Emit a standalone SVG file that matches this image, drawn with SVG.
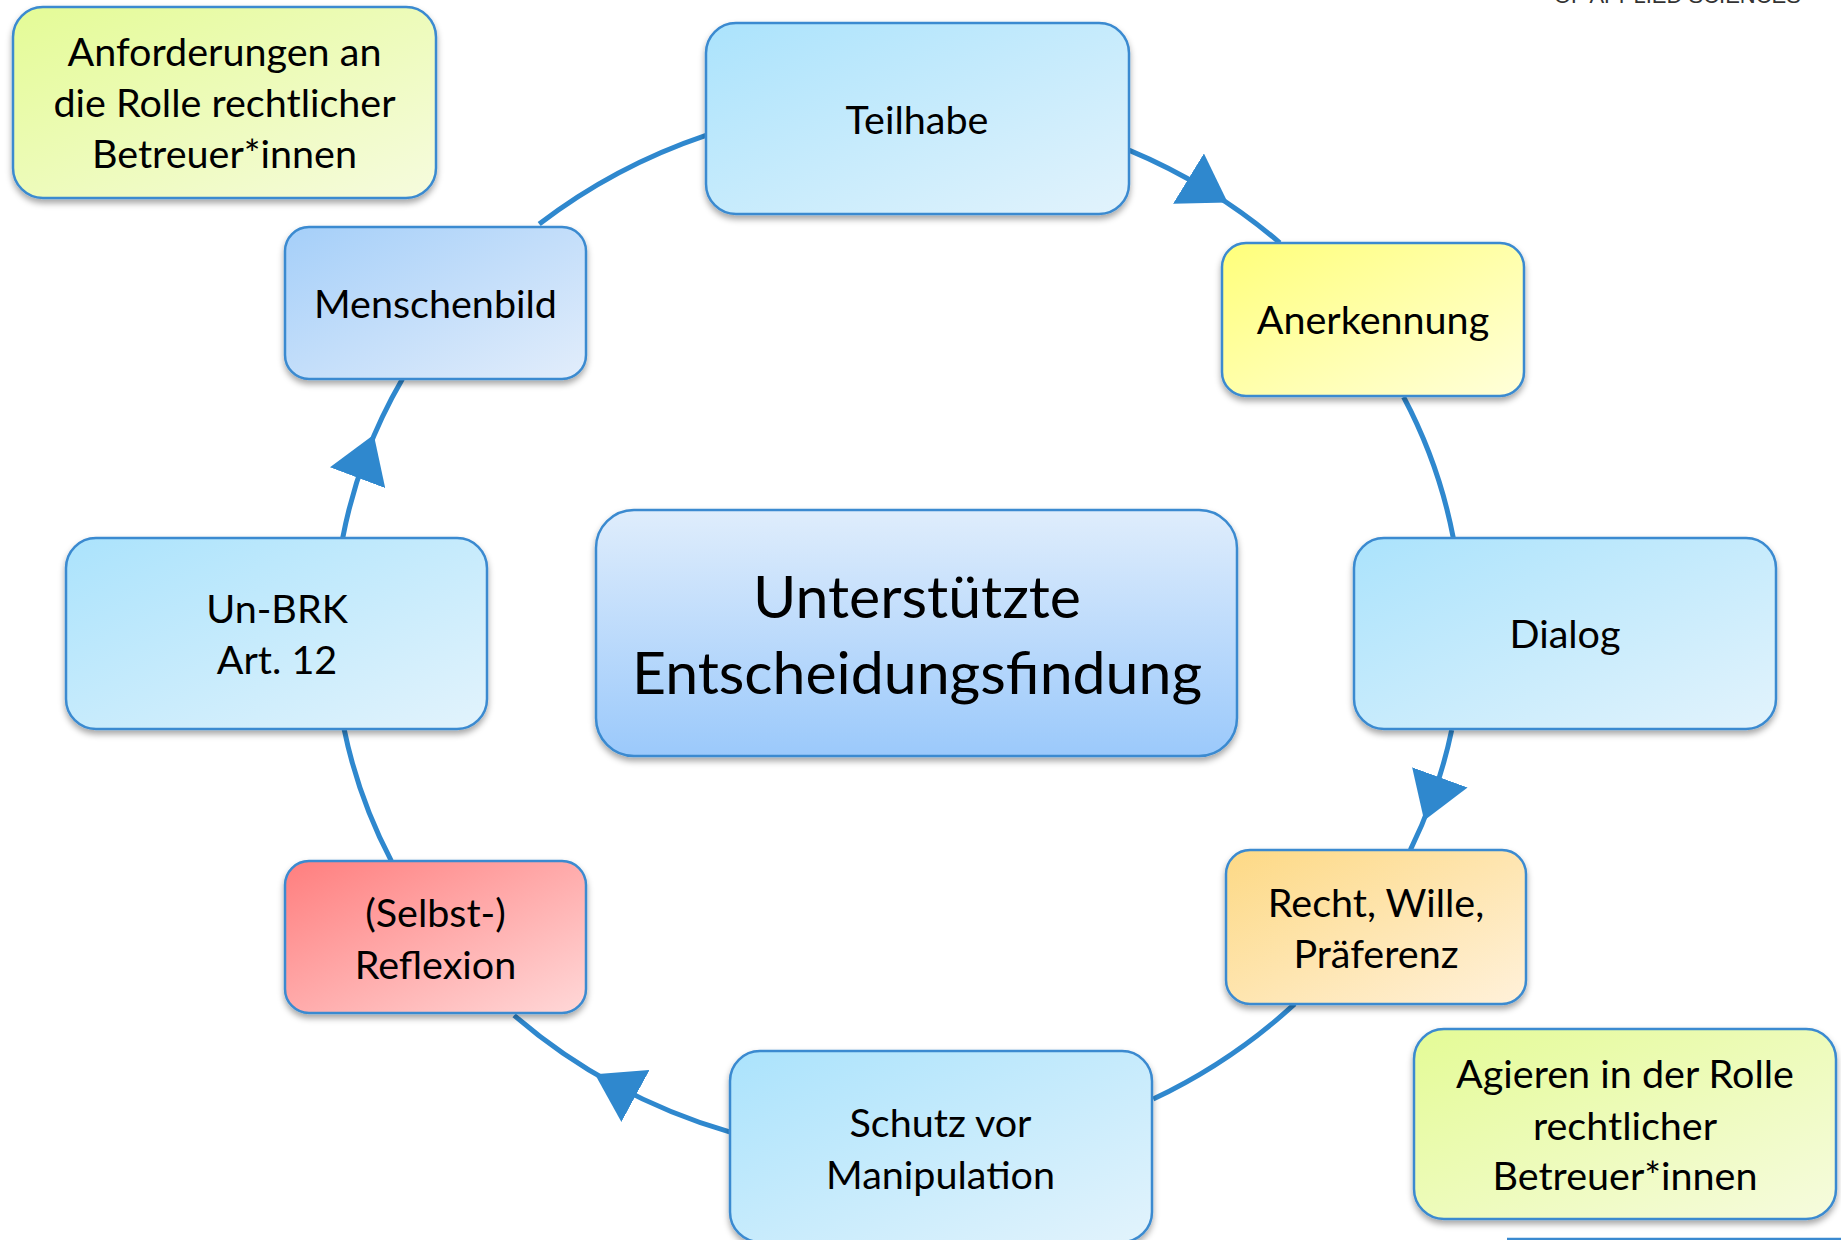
<svg xmlns="http://www.w3.org/2000/svg" width="1841" height="1240" viewBox="0 0 1841 1240">
<style>
.box{stroke:#3A8AD0;stroke-width:2.5;filter:url(#sh)}
.t{font-family:Lato,"Open Sans","Liberation Sans",sans-serif;font-size:39.5px;fill:#000;text-anchor:middle}
.big{font-size:59px}
.conn{fill:none;stroke:#2F88CE;stroke-width:5}
.arr{marker-mid:url(#ah)}
</style>
<defs>
<filter id="sh" x="-10%" y="-10%" width="120%" height="130%">
<feDropShadow dx="0" dy="4" stdDeviation="3" flood-color="#000" flood-opacity="0.35"/>
</filter>
<linearGradient id="gBlue" x1="0" y1="0" x2="1" y2="1"><stop offset="0" stop-color="#ABE3FC"/><stop offset="1" stop-color="#E2F3FC"/></linearGradient>
<linearGradient id="gMensch" x1="0" y1="0" x2="1" y2="1"><stop offset="0" stop-color="#A5CFF9"/><stop offset="1" stop-color="#E2EDFB"/></linearGradient>
<linearGradient id="gYellow" x1="0" y1="0" x2="1" y2="1"><stop offset="0" stop-color="#FFFF7A"/><stop offset="1" stop-color="#FFFFDA"/></linearGradient>
<linearGradient id="gOrange" x1="0" y1="0" x2="1" y2="1"><stop offset="0" stop-color="#FDD985"/><stop offset="1" stop-color="#FFF1DA"/></linearGradient>
<linearGradient id="gRed" x1="0" y1="0" x2="1" y2="1"><stop offset="0" stop-color="#FF7E7E"/><stop offset="1" stop-color="#FFD8D8"/></linearGradient>
<linearGradient id="gGreen" x1="0" y1="0" x2="1" y2="1"><stop offset="0" stop-color="#E4FB96"/><stop offset="1" stop-color="#F6FBDE"/></linearGradient>
<linearGradient id="gCenter" x1="0" y1="0" x2="0" y2="1"><stop offset="0" stop-color="#DFEDFC"/><stop offset="1" stop-color="#9BC9FB"/></linearGradient>
<marker id="ah" markerUnits="userSpaceOnUse" viewBox="0 0 46 59" markerWidth="46" markerHeight="59" refX="23" refY="29.5" orient="auto">
<path d="M0,0 L46,29.5 L0,59 Z" fill="#2F88CE"/>
</marker>
</defs>
<rect width="1841" height="1240" fill="#fff"/>
<text x="1554" y="3" style="font-family:'Liberation Sans',Arial,sans-serif;font-size:22px;fill:#333">OF APPLIED SCIENCES</text>
<line x1="1507" y1="1239" x2="1841" y2="1239" stroke="#3A8AD0" stroke-width="2.5"/>

<g id="connectors">
<path class="conn arr" d="M1128.3,149.9 A564 526 0 0 1 1208.1,190.6 A564 526 0 0 1 1279.8,242.8"/>
<path class="conn" d="M1403.6,397 A564 526 0 0 1 1453.3,538"/>
<path class="conn arr" d="M1451.7,729.9 A564 526 0 0 1 1432,799 A564 526 0 0 1 1410.4,849.8"/>
<path class="conn" d="M1294.7,1003.9 A564 526 0 0 1 1153.2,1099.1"/>
<path class="conn arr" d="M730.3,1132.2 A564 526 0 0 1 615.2,1085.1 A564 526 0 0 1 514.1,1015.3"/>
<path class="conn" d="M391.3,860.9 A564 526 0 0 1 344.1,729"/>
<path class="conn arr" d="M342.7,538 A564 526 0 0 1 365.7,456.2 A564 526 0 0 1 402.4,379"/>
<path class="conn" d="M539.2,224.1 A564 526 0 0 1 706,135.4"/>
</g>

<g id="anforderungen">
<rect class="box" x="13" y="7" width="423" height="191" rx="30" fill="url(#gGreen)"/>
<text class="t" x="224.5" y="66">Anforderungen an</text>
<text class="t" x="224.5" y="117">die Rolle rechtlicher</text>
<text class="t" x="224.5" y="168">Betreuer*innen</text>
</g>
<g id="teilhabe">
<rect class="box" x="706" y="23" width="423" height="191" rx="30" fill="url(#gBlue)"/>
<text class="t" x="917" y="134">Teilhabe</text>
</g>
<g id="menschenbild">
<rect class="box" x="285" y="227" width="301" height="152" rx="24" fill="url(#gMensch)"/>
<text class="t" x="435.5" y="317.5">Menschenbild</text>
</g>
<g id="anerkennung">
<rect class="box" x="1222" y="243" width="302" height="153" rx="24" fill="url(#gYellow)"/>
<text class="t" x="1373" y="334">Anerkennung</text>
</g>
<g id="unbrk">
<rect class="box" x="66" y="538" width="421" height="191" rx="30" fill="url(#gBlue)"/>
<text class="t" x="277" y="623">Un-BRK</text>
<text class="t" x="277" y="673.5">Art. 12</text>
</g>
<g id="center">
<rect class="box" x="596" y="510" width="641" height="246" rx="38" fill="url(#gCenter)"/>
<text class="t big" x="917" y="617.5">Unterstützte</text>
<text class="t big" x="917" y="694">Entscheidungsfindung</text>
</g>
<g id="dialog">
<rect class="box" x="1354" y="538" width="422" height="191" rx="30" fill="url(#gBlue)"/>
<text class="t" x="1565" y="647.5">Dialog</text>
</g>
<g id="recht">
<rect class="box" x="1226" y="850" width="300" height="154" rx="24" fill="url(#gOrange)"/>
<text class="t" x="1376" y="916.5">Recht, Wille,</text>
<text class="t" x="1376" y="968">Präferenz</text>
</g>
<g id="reflexion">
<rect class="box" x="285" y="861" width="301" height="152" rx="24" fill="url(#gRed)"/>
<text class="t" x="435.5" y="927">(Selbst-)</text>
<text class="t" x="435.5" y="978.5">Reflexion</text>
</g>
<g id="schutz">
<rect class="box" x="730" y="1051" width="422" height="191" rx="30" fill="url(#gBlue)"/>
<text class="t" x="940.5" y="1137">Schutz vor</text>
<text class="t" x="940.5" y="1189">Manipulation</text>
</g>
<g id="agieren">
<rect class="box" x="1414" y="1029" width="422" height="190" rx="30" fill="url(#gGreen)"/>
<text class="t" x="1625" y="1088">Agieren in der Rolle</text>
<text class="t" x="1625" y="1139.5">rechtlicher</text>
<text class="t" x="1625" y="1190">Betreuer*innen</text>
</g>
</svg>
